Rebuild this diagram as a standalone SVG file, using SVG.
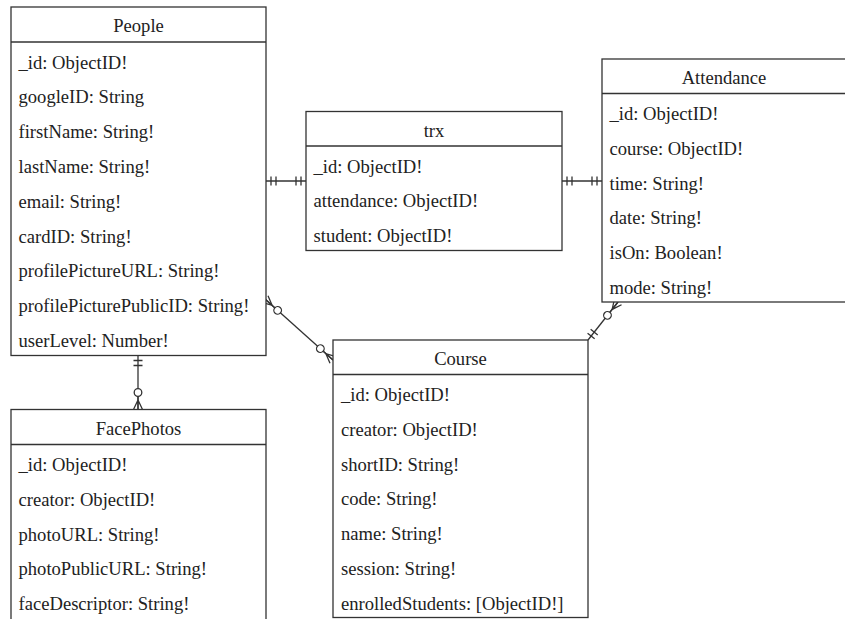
<svg xmlns="http://www.w3.org/2000/svg" width="845" height="619" viewBox="0 0 845 619">
<style>
.box{fill:#fff;stroke:#333;stroke-width:1.3}
.sep{stroke:#333;stroke-width:1.3}
text{font-family:'Liberation Serif','Times New Roman','DejaVu Serif',serif;font-size:18.6px;fill:#222}
.h{text-anchor:middle}
.c{fill:none;stroke:#333;stroke-width:1.3}
</style>
<defs>
<marker id="one" markerUnits="userSpaceOnUse" orient="auto-start-reverse" refX="0" refY="0" markerWidth="20" markerHeight="20" style="overflow:visible">
<path d="M-5,-4.5V4.5M-10,-4.5V4.5" fill="none" stroke="#333" stroke-width="1.3"/>
</marker>
<marker id="zmany" markerUnits="userSpaceOnUse" orient="auto-start-reverse" refX="0" refY="0" markerWidth="20" markerHeight="20" style="overflow:visible">
<path d="M0,-4.5L-9.5,0L0,4.5M0,0H-13" fill="none" stroke="#333" stroke-width="1.3"/>
<circle cx="-17" cy="0" r="3.8" fill="#fff" stroke="#333" stroke-width="1.3"/>
</marker>
</defs>
<g id="connectors">
<line class="c" x1="266" y1="181" x2="306" y2="181" marker-start="url(#one)" marker-end="url(#one)"/>
<line class="c" x1="562" y1="181" x2="602" y2="181" marker-start="url(#one)" marker-end="url(#one)"/>
<line class="c" x1="265" y1="299" x2="333" y2="360" marker-start="url(#zmany)" marker-end="url(#zmany)"/>
<line class="c" x1="138" y1="355.5" x2="138" y2="409.5" marker-start="url(#one)" marker-end="url(#zmany)"/>
<line class="c" x1="588" y1="340" x2="618" y2="302" marker-start="url(#one)" marker-end="url(#zmany)"/>
</g>
<g id="people" font-family="Liberation Serif, serif">
<rect class="box" x="11" y="7" width="255" height="348.5"/>
<line class="sep" x1="11" y1="42" x2="266" y2="42"/>
<text class="h" x="138.5" y="31.5">People</text>
<text x="18.5" y="68.5">_id: ObjectID!</text>
<text x="18.5" y="103.3">googleID: String</text>
<text x="18.5" y="138.1">firstName: String!</text>
<text x="18.5" y="172.9">lastName: String!</text>
<text x="18.5" y="207.7">email: String!</text>
<text x="18.5" y="242.5">cardID: String!</text>
<text x="18.5" y="277.3">profilePictureURL: String!</text>
<text x="18.5" y="312.1">profilePicturePublicID: String!</text>
<text x="18.5" y="346.9">userLevel: Number!</text>
</g>
<g id="trx">
<rect class="box" x="306" y="111.5" width="256" height="139"/>
<line class="sep" x1="306" y1="146" x2="562" y2="146"/>
<text class="h" x="434" y="136.5">trx</text>
<text x="313.5" y="172.5">_id: ObjectID!</text>
<text x="313.5" y="207.3">attendance: ObjectID!</text>
<text x="313.5" y="242.1">student: ObjectID!</text>
</g>
<g id="attendance">
<rect class="box" x="602" y="59" width="260" height="243"/>
<line class="sep" x1="602" y1="93.5" x2="862" y2="93.5"/>
<text class="h" x="724" y="83.5">Attendance</text>
<text x="609.5" y="120">_id: ObjectID!</text>
<text x="609.5" y="154.8">course: ObjectID!</text>
<text x="609.5" y="189.6">time: String!</text>
<text x="609.5" y="224.4">date: String!</text>
<text x="609.5" y="259.2">isOn: Boolean!</text>
<text x="609.5" y="294">mode: String!</text>
</g>
<g id="course">
<rect class="box" x="333" y="340" width="255" height="277.5"/>
<line class="sep" x1="333" y1="374.5" x2="588" y2="374.5"/>
<text class="h" x="460.5" y="364.5">Course</text>
<text x="341" y="401">_id: ObjectID!</text>
<text x="341" y="435.8">creator: ObjectID!</text>
<text x="341" y="470.6">shortID: String!</text>
<text x="341" y="505.4">code: String!</text>
<text x="341" y="540.2">name: String!</text>
<text x="341" y="575">session: String!</text>
<text x="341" y="609.8">enrolledStudents: [ObjectID!]</text>
</g>
<g id="facephotos">
<rect class="box" x="11" y="409.5" width="255" height="215"/>
<line class="sep" x1="11" y1="444.5" x2="266" y2="444.5"/>
<text class="h" x="138.5" y="434.5">FacePhotos</text>
<text x="18.5" y="471">_id: ObjectID!</text>
<text x="18.5" y="505.8">creator: ObjectID!</text>
<text x="18.5" y="540.6">photoURL: String!</text>
<text x="18.5" y="575.4">photoPublicURL: String!</text>
<text x="18.5" y="610.2">faceDescriptor: String!</text>
</g>
</svg>
